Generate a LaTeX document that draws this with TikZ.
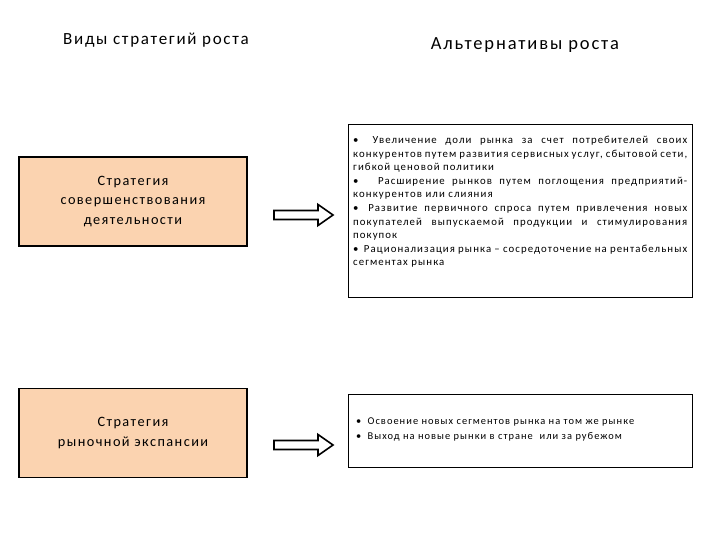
\documentclass[tikz,border=0pt]{standalone}
\usepackage{fontspec}
\setmainfont{Carlito}[LetterSpace=10]
\definecolor{peach}{HTML}{FBD3B0}
\begin{document}
\begin{tikzpicture}[x=1pt,y=-1pt,
  stratbox/.style={draw=black, line width=1.5pt, fill=peach, minimum width=228pt, minimum height=89pt, align=center, font=\fontsize{14.3}{19.5}\selectfont, inner sep=0pt},
  altbox/.style={draw=black, line width=0.9pt, fill=white, inner sep=0pt},
  blockarrow/.style={draw=black, line width=1.6pt, fill=white, line join=miter},
  title/.style={inner sep=0pt}]
\useasboundingbox (0,0) rectangle (720,540);
\node[title, font=\fontsize{17}{20}\selectfont] (t1) at (156,40) {Виды стратегий роста};
\node[title, font=\fontsize{18.5}{20}\selectfont] (t2) at (525,45) {Альтернативы роста};
\node[stratbox] (s1) at (133,201.5) {Стратегия\\совершенствования\\деятельности};
\node[stratbox] (s2) at (133,433) {Стратегия\\рыночной экспансии};
\node[altbox, minimum width=344pt, minimum height=173pt] (a1) at (520.5,210.5) {};
\node[altbox, minimum width=344pt, minimum height=73pt] (a2) at (520.5,431) {};
\node[anchor=north west, inner sep=0pt, text width=334pt, align=justify, font=\fontsize{10.8}{13.6}\selectfont] (a1t) at (353,136)
 {\textbullet\hspace{1.3em}Увеличение доли рынка за счет потребителей своих\linebreak конкурентов путем развития сервисных услуг, сбытовой сети,\linebreak гибкой ценовой политики\par
 \textbullet\hspace{1.8em}Расширение рынков путем поглощения предприятий-\linebreak конкурентов или слияния\par
 \textbullet\hspace{0.9em}Развитие первичного спроса путем привлечения новых\linebreak покупателей выпускаемой продукции и стимулирования\linebreak покупок\par
 \textbullet\hspace{0.5em}Рационализация рынка – сосредоточение на рентабельных\linebreak сегментах рынка\par};
\node[anchor=north west, inner sep=0pt, align=left, font=\fontsize{10.4}{14.8}\selectfont] (a2t) at (356,418)
 {\textbullet\hspace{0.6em}Освоение новых сегментов рынка на том же рынке\\
 \textbullet\hspace{0.6em}Выход на новые рынки в стране \ или за рубежом};
\coordinate (p1) at (274,206);
\coordinate (p2) at (274,436);
\foreach \p in {p1,p2}{
\draw[blockarrow] ([yshift=-4.5pt]\p) -- ++(44,0) -- ++(0,-6) -- ++(15,10.5) -- ++(-15,10.5) -- ++(0,-6) -- ++(-44,0) -- cycle;
}
\end{tikzpicture}
\end{document}
